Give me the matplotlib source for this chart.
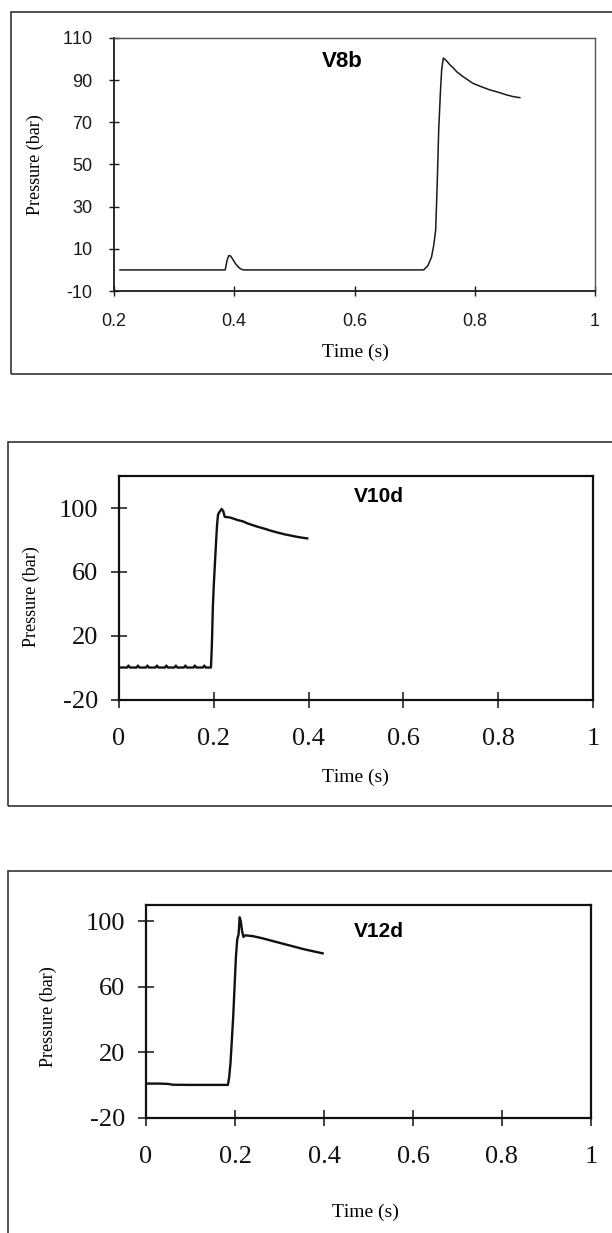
import matplotlib
matplotlib.use("Agg")
import matplotlib.pyplot as plt
from matplotlib.patches import Rectangle

plt.rcParams["axes.unicode_minus"] = False
plt.rcParams["text.kerning_factor"] = 6

W, H = 612, 1233

# V8b
t_v8b = [0.21, 0.385, 0.388, 0.391, 0.394, 0.398, 0.402, 0.406, 0.41, 0.415,
         0.715, 0.722, 0.728, 0.732, 0.735, 0.7375, 0.740, 0.743, 0.745, 0.7477,
         0.752, 0.759, 0.765, 0.770, 0.778, 0.785, 0.797, 0.81, 0.825, 0.84,
         0.853, 0.864, 0.875]
p_v8b = [0, 0, 4.5, 6.8, 6.6, 4.8, 3.0, 1.6, 0.6, 0,
         0, 2, 6, 12, 19, 40, 66, 85, 95, 100.5,
         99.5, 97.2, 95.6, 94, 92.2, 90.8, 88.5, 87, 85.4, 84.2,
         83, 82.2, 81.7]

# V10d
t_v10d = [0.0, 0.017, 0.02, 0.023, 0.037, 0.04, 0.043, 0.057, 0.06, 0.063,
          0.077, 0.08, 0.083, 0.097, 0.1, 0.103, 0.117, 0.12, 0.123, 0.137,
          0.14, 0.143, 0.157, 0.16, 0.163, 0.177, 0.18, 0.183, 0.194,
          0.196, 0.198, 0.2, 0.2025, 0.205, 0.207, 0.209, 0.212, 0.2165, 0.22,
          0.223, 0.235, 0.25, 0.262, 0.27, 0.29, 0.31, 0.318, 0.33, 0.35,
          0.362, 0.37, 0.385, 0.397]
p_v10d = [0.3, 0.3, 1.5, 0.3, 0.3, 1.5, 0.3, 0.3, 1.5, 0.3,
          0.3, 1.5, 0.3, 0.3, 1.5, 0.3, 0.3, 1.5, 0.3, 0.3,
          1.5, 0.3, 0.3, 1.5, 0.3, 0.3, 1.5, 0.3, 0.3,
          15, 38, 52, 66, 80, 90, 96, 97.5, 99.4, 98,
          94.5, 94, 92.5, 91.6, 90.5, 88.5, 86.8, 86, 85, 83.5,
          82.8, 82.3, 81.5, 81]

# V12d
t_v12d = [0.0, 0.03, 0.05, 0.06, 0.1, 0.15, 0.184, 0.187, 0.19, 0.193,
          0.196, 0.199, 0.202, 0.205, 0.208, 0.2105, 0.213, 0.216, 0.219, 0.223,
          0.24, 0.26, 0.285, 0.31, 0.33, 0.355, 0.375, 0.397]
p_v12d = [1.0, 1.0, 0.8, 0.3, 0.2, 0.2, 0.2, 5, 14, 28,
          42, 60, 78, 89, 92, 102.5, 100, 94, 90.5, 91.5,
          91, 89.8, 88, 86.2, 84.8, 83, 81.8, 80.5]

SANS = "Liberation Sans"
SERIF = "Liberation Serif"


def px_axes(fig, l, t, r, b):
    return fig.add_axes([l / W, 1 - b / H, (r - l) / W, (b - t) / H])


def px_frame(fig, l, t, b):
    fig.patches.append(Rectangle((l / W, 1 - b / H), 1.05 - l / W, (b - t) / H,
                                 transform=fig.transFigure, fill=False,
                                 lw=1.2, edgecolor="#333333"))


fig = plt.figure(figsize=(W / 100, H / 100), dpi=100)

# ---------- V8b ----------
px_frame(fig, 11, 12, 374)
ax1 = px_axes(fig, 114, 38, 595, 291)
ax1.plot(t_v8b, p_v8b, color="#1a1a1a", lw=1.1)
ax1.set_xlim(0.2, 1)
ax1.set_ylim(-10, 110)
ax1.set_xticks([0.2, 0.4, 0.6, 0.8, 1])
ax1.set_xticklabels(["0.2", "0.4", "0.6", "0.8", "1"])
ax1.set_yticks([-10, 10, 30, 50, 70, 90, 110])
for s in ["top", "right"]:
    ax1.spines[s].set_linestyle((0, (1, 1)))
    ax1.spines[s].set_color("#555555")
    ax1.spines[s].set_linewidth(1.0)
for s in ["left", "bottom"]:
    ax1.spines[s].set_linewidth(1.3)
    ax1.spines[s].set_color("#1a1a1a")
ax1.tick_params(direction="inout", length=7, width=1, labelsize=13, pad=12,
                colors="#1a1a1a")
for lab in ax1.get_xticklabels() + ax1.get_yticklabels():
    lab.set_family(SANS)
ax1.set_xlabel("Time (s)", family=SERIF, fontsize=14)
ax1.set_ylabel("Pressure (bar)", family=SERIF, fontsize=13)
ax1.xaxis.set_label_coords(0.501, -0.241)
ax1.xaxis.label.set_va("center")
ax1.yaxis.set_label_coords(-0.164, 0.5)
ax1.yaxis.label.set_va("center")
ax1.text(0.58, 99, "V8b", family=SANS, weight="bold", fontsize=16,
         ha="center", va="center")

# ---------- V10d / V12d ----------
panels = [
    (t_v10d, p_v10d, "V10d", (8, 442, 806), (119, 476, 593, 700), 120,
     (0.549, 107.5), (-0.184, 0.46), (0.498, -0.344)),
    (t_v12d, p_v12d, "V12d", (8, 871, 1245), (146, 905, 591, 1118), 110,
     (0.524, 93.7), (-0.22, 0.474), (0.494, -0.441)),
]

for t, p, name, frame, box, ytop, tpos, ylpos, xlpos in panels:
    px_frame(fig, *frame)
    ax = px_axes(fig, *box)
    ax.plot(t, p, color="#111111", lw=1.7)
    ax.set_xlim(0, 1)
    ax.set_ylim(-20, ytop)
    ax.set_xticks([0, 0.2, 0.4, 0.6, 0.8, 1])
    ax.set_xticklabels(["0", "0.2", "0.4", "0.6", "0.8", "1"])
    ax.set_yticks([-20, 20, 60, 100])
    for s in ax.spines.values():
        s.set_linewidth(1.6)
        s.set_color("#111111")
    ax.tick_params(direction="inout", length=12, width=1.1, labelsize=19,
                   colors="#111111")
    ax.tick_params(axis="x", pad=14)
    ax.tick_params(axis="y", pad=9)
    for lab in ax.get_xticklabels() + ax.get_yticklabels():
        lab.set_family(SERIF)
    ax.set_xlabel("Time (s)", family=SERIF, fontsize=14)
    ax.set_ylabel("Pressure (bar)", family=SERIF, fontsize=13)
    ax.xaxis.set_label_coords(*xlpos)
    ax.xaxis.label.set_va("center")
    ax.yaxis.set_label_coords(*ylpos)
    ax.yaxis.label.set_va("center")
    ax.text(tpos[0], tpos[1], name, family=SANS, weight="bold", fontsize=15,
            ha="center", va="center")

fig.savefig("out.png", dpi=100)
